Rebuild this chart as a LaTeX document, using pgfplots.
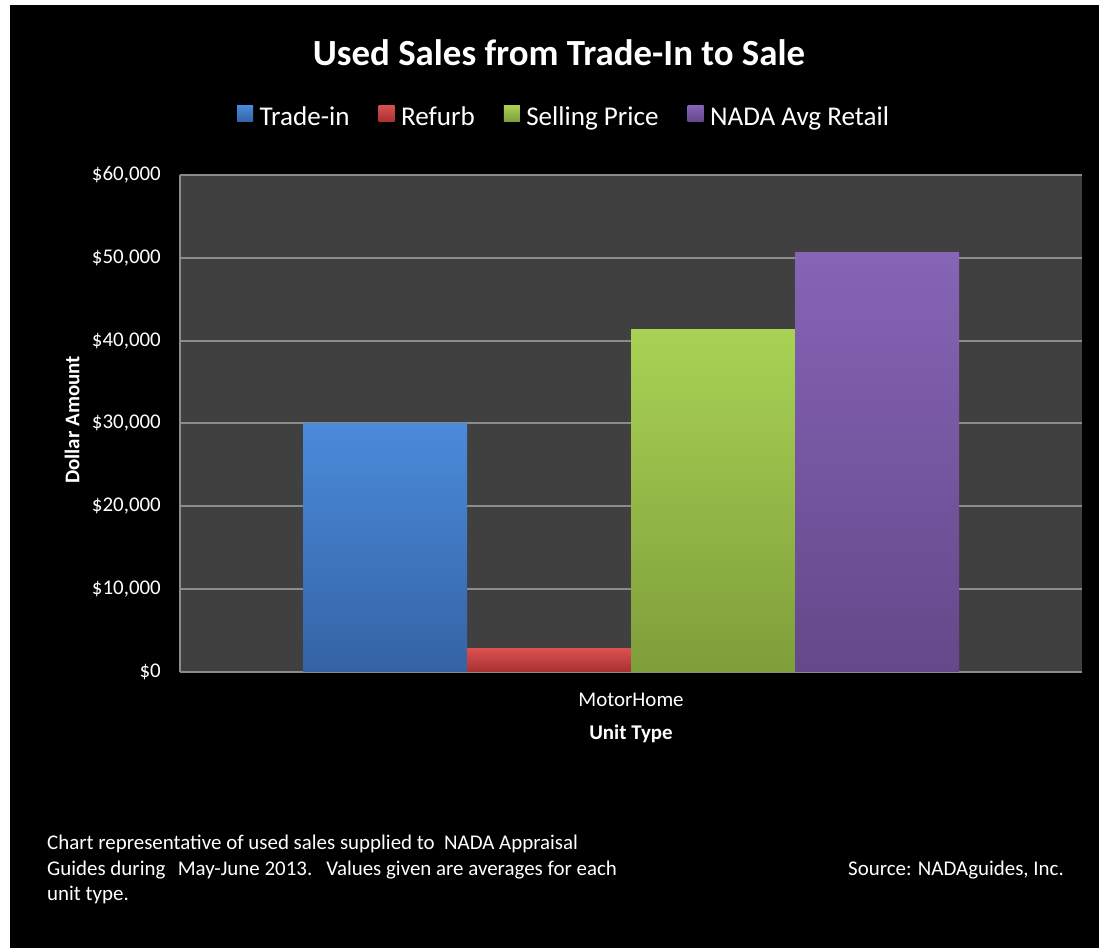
\documentclass[border=0pt]{standalone}
\usepackage{pgfplots}
\pgfplotsset{compat=1.18}
\usepackage{fontspec}
\setmainfont{Carlito}
\definecolor{plotbg}{HTML}{404040}
\definecolor{gridc}{HTML}{8C8C8C}
\definecolor{blueT}{HTML}{4A8BDA}
\definecolor{blueB}{HTML}{3463A5}
\definecolor{redT}{HTML}{DA5050}
\definecolor{redB}{HTML}{A83030}
\definecolor{greenT}{HTML}{A9D254}
\definecolor{greenB}{HTML}{7E9E3A}
\definecolor{purpT}{HTML}{8664B6}
\definecolor{purpB}{HTML}{64488A}
\begin{document}
\begin{tikzpicture}[x=1bp,y=1bp]
\useasboundingbox (0,0) rectangle (1099,948);
\fill[white] (0,0) rectangle (1099,948);
\fill[black] (10,0) rectangle (1099,943);
\begin{axis}[
  at={(180bp,276bp)}, anchor=south west,
  scale only axis, width=902bp, height=497bp,
  xmin=0, xmax=902, ymin=0, ymax=60000,
  ybar=0pt, bar width=164bp,
  axis background/.style={fill=plotbg},
  axis lines*=left, axis line style={gridc, line width=2bp, -},
  ymajorgrids, major grid style={gridc, line width=2bp},
  major tick length=0pt,
  xtick={451}, xticklabels={MotorHome},
  ytick={0,10000,...,60000},
  scaled y ticks=false,
  yticklabel={\$\pgfmathprintnumber{\tick}},
  /pgf/number format/1000 sep={,},
  /pgf/number format/assume math mode=true,
  tick label style={font=\fontsize{21}{21}\selectfont, text=white},
  yticklabel style={anchor=east, inner sep=0pt, xshift=-19bp},
  xticklabel style={anchor=base, inner sep=0pt, yshift=-35bp},
  xlabel={Unit Type}, ylabel={Dollar Amount},
  label style={font=\bfseries\fontsize{21}{21}\selectfont, text=white},
  xlabel style={at={(axis description cs:0.5,0)}, anchor=base, inner sep=0pt, yshift=-68bp},
  ylabel style={at={(axis description cs:-0.1197,0.507)}, anchor=center, inner sep=0pt},
  legend style={at={(0.0632,1.1187)}, anchor=west, draw=none, fill=none, inner sep=0pt,
    text=white, font=\fontsize{27.2}{27.2}\selectfont, legend columns=-1,
    /tikz/every odd column/.append style={column sep=6.5bp},
    /tikz/every even column/.append style={column sep=29bp},
    nodes={inner sep=0pt}},
  legend image code/.code={\fill[#1] (0bp,-5bp) rectangle (16bp,11bp);},
]
\addplot[draw=none, top color=blueT, bottom color=blueB] coordinates {(451,30000)};
\addlegendentry{Trade-in}
\addplot[draw=none, top color=redT, bottom color=redB] coordinates {(451,2800)};
\addlegendentry{Refurb}
\addplot[draw=none, top color=greenT, bottom color=greenB] coordinates {(451,41400)};
\addlegendentry{Selling Price}
\addplot[draw=none, top color=purpT, bottom color=purpB] coordinates {(451,50700)};
\addlegendentry{NADA Avg Retail}
\end{axis}
\node[anchor=base, inner sep=0pt, text=white, font=\bfseries\fontsize{37}{37}\selectfont] at (559,882) {Used Sales from Trade-In to Sale};
\begin{scope}[every node/.style={anchor=base west, inner sep=0pt, text=white, font=\fontsize{21}{21}\selectfont}]
\node at (47,98) {Chart representative of used sales supplied to\ \ NADA Appraisal};
\node at (47,72) {Guides during\ \hspace{3bp} May-June 2013.\ \hspace{3bp} Values given are averages for each};
\node at (47,47) {unit type.};
\node[anchor=base east] at (1064,72) {Source: NADAguides, Inc.};
\end{scope}
\end{tikzpicture}
\end{document}
